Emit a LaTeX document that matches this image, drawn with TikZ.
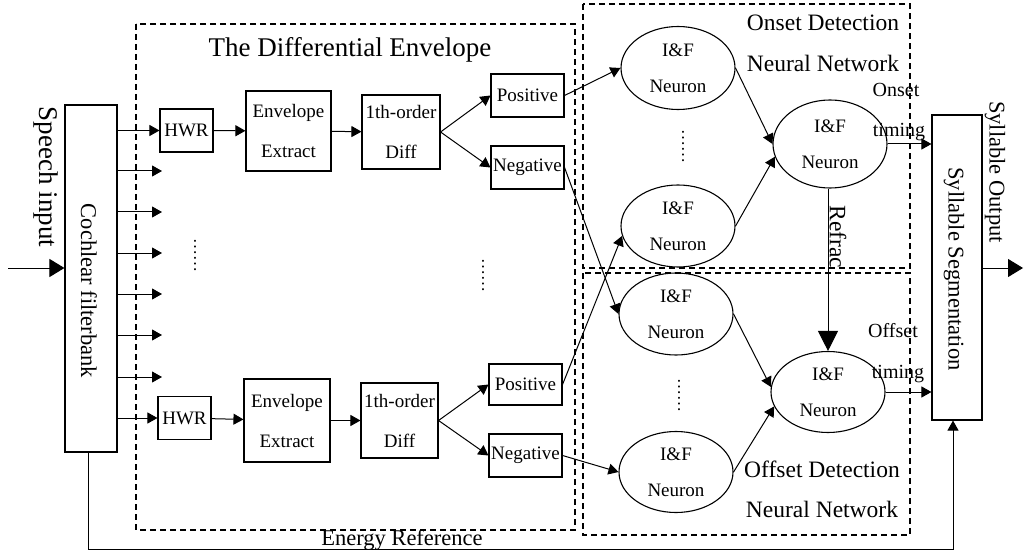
\documentclass[tikz,border=0pt]{standalone}
\usepackage{fontspec}
\setmainfont{Liberation Serif}
\usetikzlibrary{arrows.meta,shapes.geometric}
\begin{document}
\begin{tikzpicture}[x=1pt,y=-1pt,
  box/.style={draw,line width=1.1pt,inner sep=0pt,align=center,font=\fontsize{19}{40}\selectfont},
  neuron/.style={draw,ellipse,line width=1.1pt,minimum width=114pt,minimum height=82pt,inner sep=0pt,align=center,font=\fontsize{19}{36}\selectfont},
  arr/.style={line width=1pt,-{Triangle[length=10pt,width=11pt]}},
  bigarr/.style={line width=1pt,-{Triangle[length=15pt,width=18pt]}},
  frame/.style={line width=1.2pt,dash pattern=on 6pt off 4pt},
  lbl/.style={font=\fontsize{23.5}{26}\selectfont,anchor=base},
  small/.style={font=\fontsize{20}{22}\selectfont,anchor=base},
  vlbl/.style={font=\fontsize{22.5}{25}\selectfont,rotate=-90},
  dots/.style={font=\fontsize{17}{20}\selectfont,rotate=90,inner sep=0pt}
]
\useasboundingbox (0,0) rectangle (1025,556);

% dashed frames
\draw[frame] (136,24) rectangle (575,530);
\draw[frame] (583,4) rectangle (910,268);
\draw[frame] (583,273) rectangle (910,535);

% titles
\node[lbl,font=\fontsize{27}{30}\selectfont] (tde) at (350,57) {The Differential Envelope};
\node[lbl] (odt1) at (823,31) {Onset Detection};
\node[lbl] (odt2) at (823,72) {Neural Network};
\node[lbl] (fdt1) at (822,477) {Offset Detection};
\node[lbl] (fdt2) at (822,517) {Neural Network};

% filterbank and segmentation
\node[box,minimum width=52pt,minimum height=347pt] (fb) at (91,278.5) {};
\node[vlbl] (fbt) at (89,291) {Cochlear filterbank};
\node[box,minimum width=50pt,minimum height=305pt] (seg) at (957,267.5) {};
\node[vlbl] (segt) at (954,269) {Syllable Segmentation};
\node[vlbl,font=\fontsize{27}{30}\selectfont] (sint) at (46,177) {Speech input};
\node[vlbl] (soutt) at (995,172) {Syllable Output};

\coordinate (sin) at (8,268);
\coordinate (sout) at (1023,268);
\draw[bigarr] (sin) -- (sin -| fb.west);
\draw[bigarr] (seg.east |- sout) -- (sout);

% top chain
\node[box,minimum width=53pt,minimum height=43pt] (hwr1) at (186.5,130.5) {HWR};
\node[box,minimum width=85pt,minimum height=80pt] (env1) at (288.5,131) {Envelope\\Extract};
\node[box,minimum width=78pt,minimum height=74pt] (dif1) at (401,132) {1th-order\\Diff};
\node[box,minimum width=73pt,minimum height=43pt] (pos1) at (527.5,95.5) {Positive};
\node[box,minimum width=73pt,minimum height=43pt] (neg1) at (527.5,167.5) {Negative};

% bottom chain
\node[box,minimum width=53pt,minimum height=43pt] (hwr2) at (184.5,418) {HWR};
\node[box,minimum width=86pt,minimum height=83pt] (env2) at (287,420.5) {Envelope\\Extract};
\node[box,minimum width=77pt,minimum height=75pt] (dif2) at (399.5,420.5) {1th-order\\Diff};
\node[box,minimum width=73pt,minimum height=41pt] (pos2) at (525.5,384.5) {Positive};
\node[box,minimum width=73pt,minimum height=43pt] (neg2) at (525.5,455.5) {Negative};

% branch arrows from filterbank
\draw[arr] (fb.east |- hwr1.west) -- (hwr1.west);
\foreach \i/\y in {2/171,3/212,4/253,5/294,6/335,7/377}{
  \coordinate (b\i) at (162,\y);
  \draw[arr] (fb.east |- b\i) -- (b\i);
}
\draw[arr] (fb.east |- hwr2.west) -- (hwr2.west);

\draw[arr] (hwr1) -- (env1);
\draw[arr] (env1) -- (dif1);
\draw[arr] (dif1.east) -- (pos1.west);
\draw[arr] (dif1.east) -- (neg1.west);
\draw[arr] (hwr2) -- (env2);
\draw[arr] (env2) -- (dif2);
\draw[arr] (dif2.east) -- (pos2.west);
\draw[arr] (dif2.east) -- (neg2.west);

% dots
\node[dots] (d1) at (195,255) {……};
\node[dots] (d2) at (483,275) {……};
\node[dots] (d3) at (683,147) {……};
\node[dots] (d4) at (679,395) {……};

% neurons
\node[neuron,minimum height=83pt] (on1) at (678,68) {I\&F\\Neuron};
\node[neuron] (on2) at (678,226) {I\&F\\Neuron};
\node[neuron,minimum height=88pt] (onO) at (830,144) {I\&F\\Neuron};
\node[neuron] (of1) at (676,314) {I\&F\\Neuron};
\node[neuron,minimum height=81pt] (of2) at (676,472) {I\&F\\Neuron};
\node[neuron,minimum height=81pt] (ofO) at (828,392) {I\&F\\Neuron};

\draw[arr] (pos1.east) -- (on1.west);
\draw[arr] (neg1.east) -- (of1.west);
\draw[arr] (pos2.east) -- (on2.190);
\draw[arr] (neg2.east) -- (of2.west);

\draw[arr] (on1.east) -- (onO.west);
\draw[arr] (on2.east) -- (onO.193);
\draw[arr] (of1.east) -- (ofO.175);
\draw[arr] (of2.east) -- (ofO.195);

% outputs
\draw[arr] (onO.east) -- (onO.east -| seg.west);
\draw[arr] (ofO.east) -- (ofO.east -| seg.west);
\node[small] (ot1) at (896,97) {Onset};
\node[small] (ot2) at (899,137) {timing};
\node[small] (ft1) at (893,337) {Offset};
\node[small] (ft2) at (898,378) {timing};

% refractory
\draw[line width=1pt,-{Triangle[length=20pt,width=20pt]}] (onO.south -| 828,0) -- (ofO.north);
\node[vlbl,font=\fontsize{23.5}{26}\selectfont] (ref) at (838,237) {Refrac};

% energy reference
\coordinate (eb) at (88,549);
\draw[line width=1pt,-{Triangle[length=10pt,width=11pt]}] (fb.south -| eb) -- (eb) -| ([xshift=-4pt]seg.south);
\node[lbl,font=\fontsize{22.5}{25}\selectfont] (ert) at (402,545) {Energy Reference};
\end{tikzpicture}
\end{document}
